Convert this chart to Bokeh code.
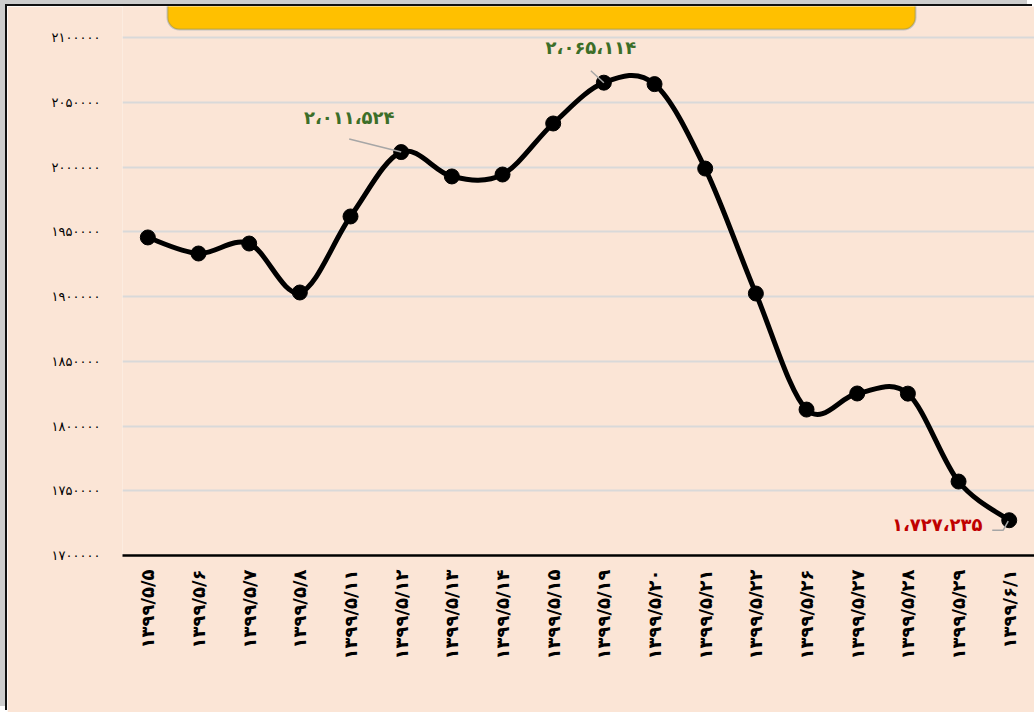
import numpy as np
from bokeh.plotting import figure
from bokeh.models import Range1d, FixedTicker, BoxAnnotation
from bokeh.core.properties import value
from bokeh.embed import file_html
from bokeh.resources import INLINE

# ---------------- data ----------------
dates = ["۱۳۹۹/۵/۵", "۱۳۹۹/۵/۶", "۱۳۹۹/۵/۷", "۱۳۹۹/۵/۸", "۱۳۹۹/۵/۱۱", "۱۳۹۹/۵/۱۲",
         "۱۳۹۹/۵/۱۳", "۱۳۹۹/۵/۱۴", "۱۳۹۹/۵/۱۵", "۱۳۹۹/۵/۱۹", "۱۳۹۹/۵/۲۰", "۱۳۹۹/۵/۲۱",
         "۱۳۹۹/۵/۲۲", "۱۳۹۹/۵/۲۶", "۱۳۹۹/۵/۲۷", "۱۳۹۹/۵/۲۸", "۱۳۹۹/۵/۲۹", "۱۳۹۹/۶/۱"]
values = [1945600, 1933200, 1940900, 1903100, 1961800, 2011524,
          1992700, 1994200, 2033600, 2065114, 2064000, 1998800,
          1902300, 1812700, 1825100, 1825000, 1757100, 1727235]
y_ticks = [1700000, 1750000, 1800000, 1850000, 1900000, 1950000, 2000000, 2050000, 2100000]
y_tick_labels = ["۱۷۰۰۰۰۰", "۱۷۵۰۰۰۰", "۱۸۰۰۰۰۰", "۱۸۵۰۰۰۰", "۱۹۰۰۰۰۰",
                 "۱۹۵۰۰۰۰", "۲۰۰۰۰۰۰", "۲۰۵۰۰۰۰", "۲۱۰۰۰۰۰"]
# highlighted points: index in series, label text
hi_green_idx = [5, 9]
hi_green_text = ["۲،۰۱۱،۵۲۴", "۲،۰۶۵،۱۱۴"]
hi_red_idx = [17]
hi_red_text = ["۱،۷۲۷،۲۳۵"]

# ---------------- layout ----------------
OX, OY = 7, 6                # figure offset inside the page (page frame)
W, H = 1034 - OX, 712 - OY
LEFT, BOTTOM = 122 - OX, 157
PX_X = 50.67                 # pixels per category
PX_Y = 518 / 400000          # pixels per unit
frame_h = H - BOTTOM
y_start = 1700000
y_end = y_start + frame_h / PX_Y
x_end = (W - LEFT) / PX_X

BG = "#FBE5D6"
FONT = "DejaVu Sans"

p = figure(width=W, height=H, output_backend="svg", toolbar_location=None,
           x_range=Range1d(0, x_end), y_range=Range1d(y_start, y_end),
           min_border_left=LEFT, min_border_right=0, min_border_top=0,
           min_border_bottom=BOTTOM, background_fill_color=BG,
           border_fill_color=BG, outline_line_color=None)
p.styles = {"margin-left": f"{OX}px", "margin-top": f"{OY}px",
            "box-shadow": "-2px -2px 0 0 #111111, -7px -6px 0 0 #CDCDCD"}

xs = np.arange(len(values)) + 0.5
ys = np.array(values, dtype=float)


def sx(px):   # page x -> data x
    return (px - OX - LEFT) / PX_X


def sy(py):   # page y (from top) -> data y
    return y_start + (frame_h - (py - OY)) / PX_Y


# axes
p.xaxis.ticker = FixedTicker(ticks=list(xs))
p.xaxis.major_label_overrides = {float(x): d for x, d in zip(xs, dates)}
p.xaxis.major_label_orientation = np.pi / 2
p.xaxis.major_label_text_font = FONT
p.xaxis.major_label_text_font_size = "18px"
p.xaxis.major_label_text_font_style = "bold"
p.xaxis.major_label_text_color = "black"
p.xaxis.major_label_standoff = 14
p.xaxis.axis_line_color = "black"
p.xaxis.axis_line_width = 2.5
p.xaxis.major_tick_line_color = None
p.xaxis.minor_tick_line_color = None
p.xaxis.major_tick_out = 0
p.xaxis.major_tick_in = 0

p.yaxis.ticker = FixedTicker(ticks=y_ticks)
p.yaxis.major_label_overrides = {t: l for t, l in zip(y_ticks, y_tick_labels)}
p.yaxis.major_label_text_font = FONT
p.yaxis.major_label_text_font_size = "13px"
p.yaxis.major_label_text_color = "black"
p.yaxis.major_label_standoff = 22
p.yaxis.axis_line_color = None
p.yaxis.major_tick_line_color = None
p.yaxis.minor_tick_line_color = None
p.yaxis.major_tick_out = 0
p.yaxis.major_tick_in = 0

p.xgrid.grid_line_color = None
p.ygrid.ticker = FixedTicker(ticks=y_ticks)
p.ygrid.grid_line_color = "#D9D9D9"
p.ygrid.grid_line_width = 2

# title box (partly above the page)
title_box = BoxAnnotation(left=sx(167), right=sx(915), bottom=sy(29), top=sy(-40),
                          fill_color="#FFC000", fill_alpha=1.0,
                          line_color="#41719C", line_width=2, border_radius=12)
p.add_layout(title_box)

# smoothed line (cubic Bezier segments, Catmull-Rom style)
n = len(xs)
i = np.arange(n - 1)
im1 = np.maximum(i - 1, 0)
ip2 = np.minimum(i + 2, n - 1)
cx0 = xs[i] + (xs[i + 1] - xs[im1]) / 6
cy0 = ys[i] + (ys[i + 1] - ys[im1]) / 6
cx1 = xs[i + 1] - (xs[ip2] - xs[i]) / 6
cy1 = ys[i + 1] - (ys[ip2] - ys[i]) / 6
p.bezier(x0=xs[i], y0=ys[i], x1=xs[i + 1], y1=ys[i + 1],
         cx0=cx0, cy0=cy0, cx1=cx1, cy1=cy1,
         line_color="black", line_width=5, line_cap="round")

p.scatter(xs, ys, size=15, marker="circle", fill_color="black", line_color="black")


# leader lines (pixel offsets converted to data units)
def off(idx, dx, dy):
    return xs[idx] + dx / PX_X, ys[idx] - dy / PX_Y


lead_color = "#A6A6A6"
for idx, (dx, dy) in zip(hi_green_idx, [(-52, -13), (-13, -12)]):
    x1, y1 = off(idx, dx, dy)
    p.segment(x0=[xs[idx]], y0=[ys[idx]], x1=[x1], y1=[y1],
              line_color=lead_color, line_width=1.5)
for idx in hi_red_idx:
    pts = [off(idx, -1, 1), off(idx, -6, 10), off(idx, -17, 10)]
    p.line([a for a, _ in pts], [b for _, b in pts], line_color=lead_color, line_width=1.5)

# value labels
for idx, txt, (dx, dy) in zip(hi_green_idx, hi_green_text, [(-52, -35), (-13, -35)]):
    p.text(x=[xs[idx]], y=[ys[idx]], text=[txt], x_offset=dx, y_offset=dy,
           text_align="center", text_baseline="middle",
           text_font=value(FONT), text_font_style="bold", text_font_size="18px",
           text_color="#3C6E28")
for idx, txt in zip(hi_red_idx, hi_red_text):
    p.text(x=[xs[idx]], y=[ys[idx]], text=[txt], x_offset=-72, y_offset=4,
           text_align="center", text_baseline="middle",
           text_font=value(FONT), text_font_style="bold", text_font_size="18px",
           text_color="#C00000")

open("out.html", "w").write(file_html(p, INLINE))
